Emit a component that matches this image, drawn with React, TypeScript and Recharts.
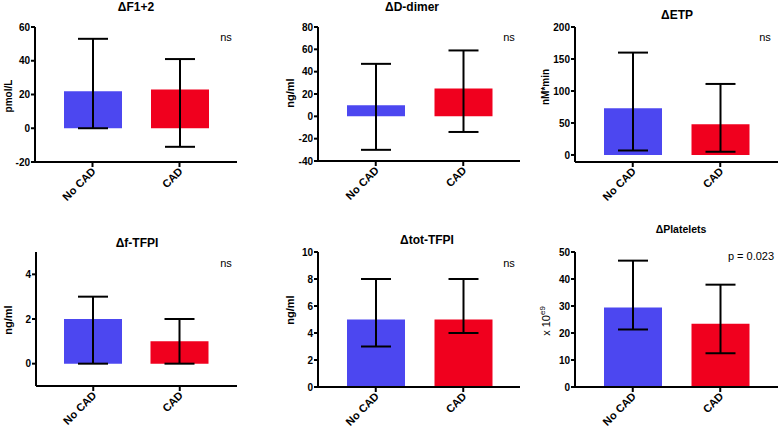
import React from 'react';
import { BarChart, Bar, XAxis, YAxis, ErrorBar, Cell } from 'recharts';

const categories = ['No CAD', 'CAD'];

const f12Mean = [22, 23];
const f12Upper = [53, 41];
const f12Lower = [0, -11];

const dDimerMean = [10, 25];
const dDimerUpper = [47, 59];
const dDimerLower = [-30, -14];

const etpMean = [73, 48];
const etpUpper = [160, 111];
const etpLower = [7, 5];

const fTfpiMean = [2, 1];
const fTfpiUpper = [3, 2];
const fTfpiLower = [0, 0];

const totTfpiMean = [5, 5];
const totTfpiUpper = [8, 8];
const totTfpiLower = [3, 4];

const plateletsMean = [29.4, 23.4];
const plateletsUpper = [46.8, 37.9];
const plateletsLower = [21.3, 12.5];

const panelTitles = ['ΔF1+2', 'ΔD-dimer', 'ΔETP', 'Δf-TFPI', 'Δtot-TFPI', 'ΔPlatelets'];
const yAxisLabels = ['pmol/L', 'ng/ml', 'nM*min', 'ng/ml', 'ng/ml', 'x 10'];
const yAxisLabelSup = ['', '', '', '', '', 'e9'];
const significance = ['ns', 'ns', 'ns', 'ns', 'ns', 'p = 0.023'];

const yTicks = [
  [-20, 0, 20, 40, 60],
  [-40, -20, 0, 20, 40, 60, 80],
  [0, 50, 100, 150, 200],
  [0, 2, 4],
  [0, 2, 4, 6, 8, 10],
  [0, 10, 20, 30, 40, 50],
];
const yDomains = [
  [-20, 60],
  [-40, 80],
  [-11, 200],
  [-1, 5],
  [0, 10],
  [0, 50],
];

const means = [f12Mean, dDimerMean, etpMean, fTfpiMean, totTfpiMean, plateletsMean];
const uppers = [f12Upper, dDimerUpper, etpUpper, fTfpiUpper, totTfpiUpper, plateletsUpper];
const lowers = [f12Lower, dDimerLower, etpLower, fTfpiLower, totTfpiLower, plateletsLower];

// ---- layout / style (not data) ----
const FONT = '"Liberation Sans", Arial, Helvetica, sans-serif';
const BAR_COLORS = ['#4c47f0', '#f0001e'];
const Y_AXIS_W = 30;
const X_AXIS_H = 40;

type PanelLayout = {
  box: [number, number, number, number]; // x, y, w, h
  plot: [number, number, number, number]; // left, right, top, bottom
  title: [number, number, number];
  label: [number, number, number, string];
  sig: [number, number];
};

const layout: PanelLayout[] = [
  { box: [0, 0, 260, 210], plot: [35, 237, 27, 162], title: [136, 7, 12], label: [8, 96, 10, 'bold'], sig: [226, 37] },
  { box: [260, 0, 260, 210], plot: [318, 521, 27, 161], title: [412, 7, 12], label: [290, 93, 11, 'bold'], sig: [509, 37] },
  { box: [518, 0, 260, 210], plot: [575, 778, 27, 162], title: [677, 15, 12], label: [545, 87, 10, 'bold'], sig: [765, 37] },
  { box: [0, 210, 260, 217], plot: [36, 237, 252, 386], title: [137, 243, 12], label: [8, 320, 11, 'bold'], sig: [226, 263] },
  { box: [260, 210, 260, 217], plot: [318, 521, 252, 387], title: [427, 240, 12], label: [290, 310, 11, 'bold'], sig: [509, 263] },
  { box: [518, 210, 260, 217], plot: [575, 778, 252, 387], title: [681, 229, 10.5], label: [546, 321, 11, 'normal'], sig: [751, 256] },
];

const XTick = (props: any) => {
  const { x, y, payload } = props;
  return (
    <g transform={`translate(${x + 4},${y + 3})`}>
      <text
        textAnchor="end"
        transform="rotate(-45)"
        fontSize={11}
        fontWeight="bold"
        fill="#000"
        fontFamily={FONT}
      >
        {payload.value}
      </text>
    </g>
  );
};

const Panel = ({ i }: { i: number }) => {
  const L = layout[i];
  const [bx, by, bw, bh] = L.box;
  const [pl, pr, pt, pb] = L.plot;
  const data = categories.map((c, j) => ({
    name: c,
    value: means[i][j],
    err: [means[i][j] - lowers[i][j], uppers[i][j] - means[i][j]],
  }));
  const margin = {
    left: pl - bx - Y_AXIS_W,
    right: bx + bw - pr,
    top: pt - by,
    bottom: by + bh - pb - X_AXIS_H,
  };
  return (
    <div style={{ position: 'absolute', left: bx, top: by, width: bw, height: bh }}>
      <BarChart width={bw} height={bh} data={data} margin={margin}>
        <XAxis
          dataKey="name"
          type="category"
          interval={0}
          padding={{ left: 14, right: 14 }}
          height={X_AXIS_H}
          tickSize={5}
          tick={<XTick />}
          axisLine={{ stroke: '#000', strokeWidth: 2 }}
          tickLine={{ stroke: '#000', strokeWidth: 2 }}
        />
        <YAxis
          type="number"
          domain={yDomains[i]}
          ticks={yTicks[i]}
          allowDataOverflow
          width={Y_AXIS_W}
          tickSize={4}
          tickMargin={1}
          tick={{ fontSize: 10, fontWeight: 'bold', fill: '#000', fontFamily: FONT }}
          axisLine={{ stroke: '#000', strokeWidth: 2 }}
          tickLine={{ stroke: '#000', strokeWidth: 2 }}
        />
        <Bar dataKey="value" barSize={58} isAnimationActive={false}>
          {data.map((d, j) => (
            <Cell key={d.name} fill={BAR_COLORS[j]} />
          ))}
          <ErrorBar dataKey="err" width={15} strokeWidth={2} stroke="#000" direction="y" isAnimationActive={false} />
        </Bar>
      </BarChart>
    </div>
  );
};

export default function App() {
  return (
    <div
      style={{
        position: 'absolute',
        left: 0,
        top: 0,
        width: 778,
        height: 427,
        background: '#fff',
        fontFamily: FONT,
        overflow: 'hidden',
      }}
    >
      {layout.map((_, i) => (
        <Panel key={i} i={i} />
      ))}
      <svg
        width={778}
        height={427}
        style={{ position: 'absolute', left: 0, top: 0, pointerEvents: 'none' }}
        fontFamily={FONT}
      >
        {layout.map((L, i) => (
          <g key={i}>
            <text
              x={L.title[0]}
              y={L.title[1]}
              fontSize={L.title[2]}
              fontWeight="bold"
              textAnchor="middle"
              dominantBaseline="central"
              fill="#000"
            >
              {panelTitles[i]}
            </text>
            <text
              x={L.sig[0]}
              y={L.sig[1]}
              fontSize={11}
              textAnchor="middle"
              dominantBaseline="central"
              fill="#000"
            >
              {significance[i]}
            </text>
            <text
              x={L.label[0]}
              y={L.label[1]}
              fontSize={L.label[2]}
              fontWeight={L.label[3]}
              textAnchor="middle"
              dominantBaseline="central"
              transform={`rotate(-90, ${L.label[0]}, ${L.label[1]})`}
              fill="#000"
            >
              {yAxisLabels[i]}
              {yAxisLabelSup[i] ? (
                <tspan fontSize={8} dy={-4}>
                  {yAxisLabelSup[i]}
                </tspan>
              ) : null}
            </text>
          </g>
        ))}
      </svg>
    </div>
  );
}
